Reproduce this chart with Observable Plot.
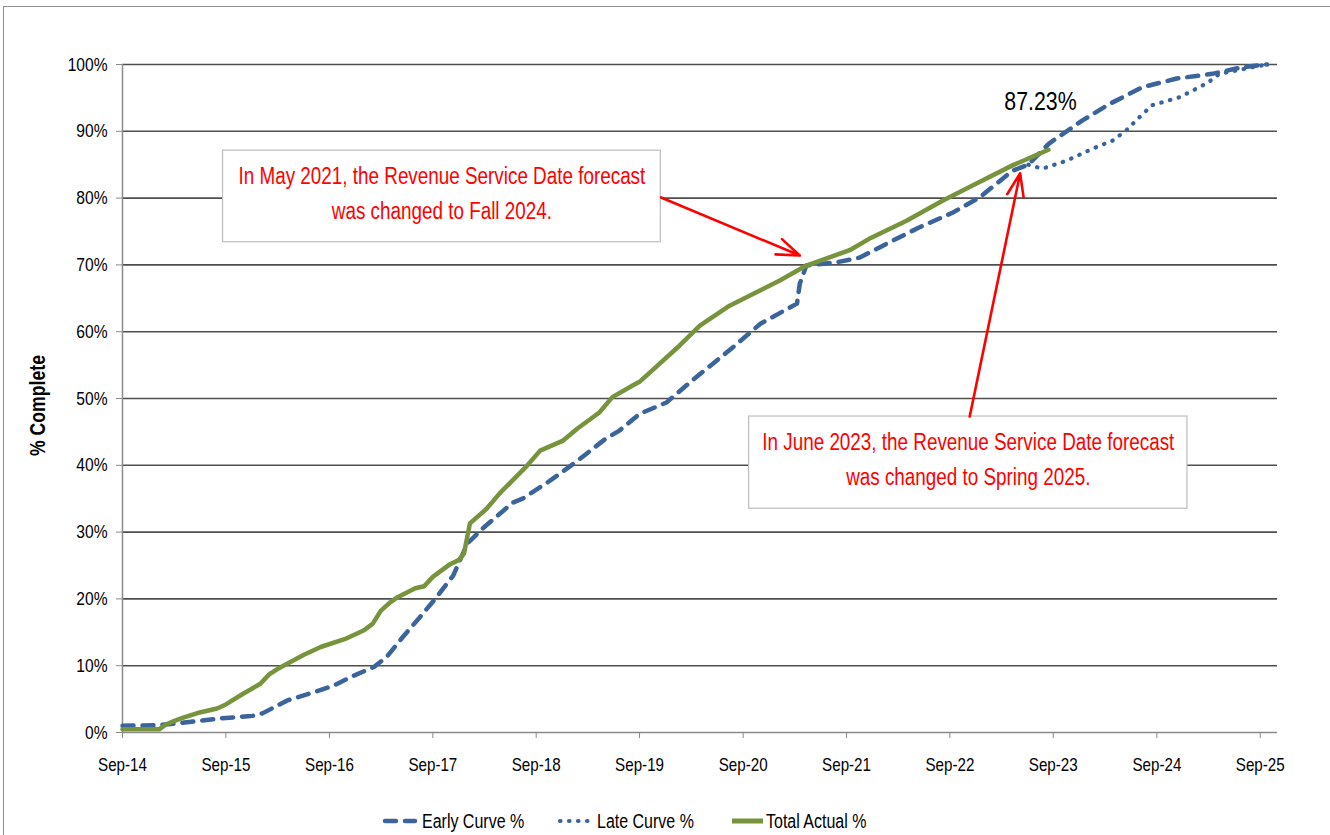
<!DOCTYPE html>
<html><head><meta charset="utf-8">
<script src="https://cdn.jsdelivr.net/npm/d3@7"></script>
<script src="https://cdn.jsdelivr.net/npm/@observablehq/plot@0.6"></script>
<style>
body{margin:0;background:#fff;width:1330px;height:835px;overflow:hidden;position:relative;font-family:"Liberation Sans",sans-serif;}
#frame{position:absolute;left:3px;top:6px;width:1340px;height:840px;border:1.5px solid #8f8f8f;box-sizing:border-box;}
#chart{position:absolute;left:0;top:0;}
#legend{position:absolute;top:808px;left:0;width:1330px;height:26px;font-size:19.5px;color:#000;}
#legend span{position:absolute;top:0;line-height:26px;white-space:nowrap;transform:scaleX(0.82);transform-origin:0 50%;}
#legend svg{position:absolute;top:0;}
</style></head><body>
<div id="frame"></div><div id="chart"></div><div id="legend"></div>
<script>
// ---- Data ----
const earlyDates = ["2014-09-01","2015-01-01","2015-03-01","2015-08-12","2015-12-05","2016-01-10","2016-04-05","2016-07-05","2016-09-15","2016-11-25","2017-02-05","2017-03-22","2017-05-18","2017-07-18","2017-09-15","2017-11-12","2018-01-01","2018-02-28","2018-06-10","2018-07-15","2018-10-10","2019-01-10","2019-05-05","2019-06-22","2019-09-01","2019-12-05","2020-03-05","2020-07-25","2020-11-01","2021-03-10","2021-03-20","2021-04-12","2021-07-28","2021-10-18","2022-01-22","2022-05-15","2022-09-10","2022-12-15","2023-04-10","2023-06-05","2023-08-18","2023-12-12","2024-03-18","2024-07-12","2024-11-10","2025-03-15","2025-07-01","2025-09-25"];
const earlyValues = [1.0,1.1,1.3,2.1,2.5,2.9,4.8,6.0,7.0,8.5,9.8,11.3,14.3,17.3,20.3,23.5,28.3,30.7,34.4,35.0,37.4,40.2,44.0,45.2,47.7,49.4,52.7,57.6,61.2,64.2,67.2,69.9,70.4,71.1,73.2,75.6,77.8,80.1,84.1,85.0,88.2,91.6,94.1,96.6,97.9,98.6,99.6,100];

const lateDates = ["2023-06-05","2023-07-25","2023-10-18","2024-01-18","2024-03-28","2024-05-15","2024-07-01","2024-08-15","2024-11-20","2025-02-25","2025-04-10","2025-08-05","2025-09-25"];
const lateValues = [85.0,84.4,85.6,87.4,88.6,90.1,92.1,93.9,95.1,97.2,98.6,99.6,100];

const actualDates = ["2014-09-01","2015-01-10","2015-02-01","2015-03-01","2015-04-01","2015-06-01","2015-08-01","2015-09-01","2015-11-01","2016-01-01","2016-02-01","2016-03-01","2016-05-01","2016-06-01","2016-08-01","2016-11-01","2017-01-01","2017-02-01","2017-03-01","2017-04-01","2017-05-01","2017-07-01","2017-08-01","2017-09-01","2017-11-01","2017-12-01","2017-12-20","2018-01-10","2018-03-10","2018-04-25","2018-08-01","2018-09-15","2018-12-05","2019-01-25","2019-04-12","2019-05-28","2019-08-06","2019-09-01","2020-01-20","2020-04-01","2020-07-15","2020-11-01","2021-01-10","2021-04-12","2021-09-12","2021-11-20","2022-04-01","2022-08-06","2022-11-20","2023-04-10","2023-08-15"];
const actualValues = [0.5,0.5,1.2,1.7,2.2,3.0,3.6,4.2,5.8,7.3,8.7,9.5,10.9,11.6,12.8,14.1,15.3,16.3,18.2,19.4,20.3,21.6,21.9,23.3,25.2,25.8,26.8,31.3,33.5,35.8,40.0,42.2,43.7,45.5,47.9,50.2,51.9,52.5,57.9,60.9,63.9,66.2,67.7,69.9,72.2,73.9,76.6,79.6,81.9,84.9,87.23];

const yTicks = [0,10,20,30,40,50,60,70,80,90,100];
const xTickYears = [2014,2015,2016,2017,2018,2019,2020,2021,2022,2023,2024,2025];
const xDomain = ["2014-09-01","2025-11-01"];

const seriesNames = ["Early Curve %","Late Curve %","Total Actual %"];
const seriesColors = ["#3a649b","#3a649b","#77933c"];

const noteTexts = ["In May 2021, the Revenue Service Date forecast\nwas changed to Fall 2024.","In June 2023, the Revenue Service Date forecast\nwas changed to Spring 2025."];
const noteX1 = ["2015-08-22","2020-09-22"];
const noteX2 = ["2019-11-15","2024-12-18"];
const noteYTop = [87.1,47.3];
const noteYBottom = [73.4,33.5];

const arrowX1 = ["2019-11-16","2022-11-10"];
const arrowY1 = [80.1,47.3];
const arrowX2 = ["2021-03-20","2023-05-07"];
const arrowY2 = [71.4,83.7];

const finalLabel = "87.23%";
const finalLabelDate = "2023-07-18";
const finalLabelValue = 94.5;

// ---- Build tables ----
const D = s => new Date(s + "T00:00:00Z");
const early = earlyDates.map((d,i)=>({date:D(d), value:earlyValues[i]}));
const late = lateDates.map((d,i)=>({date:D(d), value:lateValues[i]}));
const actual = actualDates.map((d,i)=>({date:D(d), value:actualValues[i]}));
const notes = noteTexts.map((t,i)=>({text:t, x1:D(noteX1[i]), x2:D(noteX2[i]), y1:noteYBottom[i], y2:noteYTop[i],
  xm:new Date((D(noteX1[i]).getTime()+D(noteX2[i]).getTime())/2), ym:(noteYTop[i]+noteYBottom[i])/2}));
const arrows = arrowX1.map((d,i)=>({x1:D(d), y1:arrowY1[i], x2:D(arrowX2[i]), y2:arrowY2[i]}));
const xTicks = xTickYears.map(y=>D(y+"-09-01"));
const fmtX = d3.utcFormat("%b-%y");
const FONT = '"Liberation Sans",sans-serif';

const chart = Plot.plot({
  width:1330, height:800,
  marginLeft:122, marginRight:53, marginTop:64, marginBottom:68,
  style:{fontFamily:FONT, background:"transparent", color:"#000", overflow:"visible"},
  x:{type:"utc", domain:xDomain.map(D)},
  y:{domain:[0,100]},
  marks:[
    Plot.gridY(yTicks.filter(v=>v>0), {stroke:"#4f4f4f", strokeOpacity:1, strokeWidth:1.6}),
    Plot.ruleY([0], {stroke:"#8a8a8a", strokeWidth:1.5}),
    Plot.ruleX([D(xDomain[0])], {stroke:"#8a8a8a", strokeWidth:1.5}),
    Plot.axisY({ticks:yTicks, tickFormat:d=>d+"%", tickSize:6, tickPadding:9, stroke:"#8a8a8a", fill:"#000", fontSize:19, label:null}),
    Plot.axisX({ticks:xTicks, tickFormat:fmtX, tickSize:6, tickPadding:19, stroke:"#8a8a8a", fill:"#000", fontSize:18.5, label:null}),
    Plot.text(["% Complete"], {frameAnchor:"left", dx:-84, dy:7, rotate:-90, textAnchor:"middle", fontSize:21.5, fontWeight:"bold", fill:"#000", ariaLabel:"ylabel"}),
    Plot.line(late, {x:"date", y:"value", stroke:seriesColors[1], strokeWidth:4.2, strokeDasharray:"0.5,8.5", strokeLinecap:"round"}),
    Plot.line(early, {x:"date", y:"value", stroke:seriesColors[0], strokeWidth:4.5, strokeDasharray:"11,9", strokeLinecap:"round"}),
    Plot.line(actual, {x:"date", y:"value", stroke:seriesColors[2], strokeWidth:4.5}),
    Plot.rect(notes, {x1:"x1", x2:"x2", y1:"y1", y2:"y2", fill:"#fff", stroke:"#bdbdbd", strokeWidth:1.2}),
    Plot.text(notes, {x:"xm", y:"ym", dy:-6, text:"text", fill:"#ff0000", fontSize:23, lineHeight:1.5, textAnchor:"middle"}),
    Plot.arrow(arrows, {x1:"x1", y1:"y1", x2:"x2", y2:"y2", stroke:"#ff0000", strokeWidth:2.6, headLength:14, headAngle:40, bend:0}),
    Plot.text([finalLabel], {x:D(finalLabelDate), y:finalLabelValue, fontSize:26, fill:"#000"})
  ]
});
document.getElementById("chart").appendChild(chart);

// Condense text horizontally (the reference uses a narrow face)
const SQUEEZE = 0.82;
chart.querySelectorAll("text").forEach(t=>{
  if (t.closest('[aria-label="ylabel"]')) return;
  const spans = t.querySelectorAll("tspan");
  const targets = spans.length ? Array.from(spans) : [t];
  targets.forEach(el=>{
    const w = el.getComputedTextLength();
    if (w > 0) { el.setAttribute("textLength", (w*SQUEEZE).toFixed(2)); el.setAttribute("lengthAdjust","spacingAndGlyphs"); }
  });
});

// ---- Legend ----
const lg = d3.select("#legend");
const items = [
  {name:seriesNames[0], sx:383, sw:34, tx:422, dash:"11,9", w:4.5, color:seriesColors[0]},
  {name:seriesNames[1], sx:558, sw:32, tx:597, dash:"0.5,8.5", w:4.2, color:seriesColors[1]},
  {name:seriesNames[2], sx:730, sw:35, tx:766, dash:null, w:5, color:seriesColors[2]}
];
items.forEach(it=>{
  const s = lg.append("svg").attr("width", it.sw+6).attr("height", 26).style("left", (it.sx-3)+"px");
  const l = s.append("line").attr("x1",3+2).attr("x2",3+it.sw-2).attr("y1",13).attr("y2",13)
    .attr("stroke",it.color).attr("stroke-width",it.w).attr("stroke-linecap",it.dash?"round":"butt");
  if(it.dash) l.attr("stroke-dasharray", it.dash);
  lg.append("span").style("left", it.tx+"px").text(it.name);
});
</script>
</body></html>
